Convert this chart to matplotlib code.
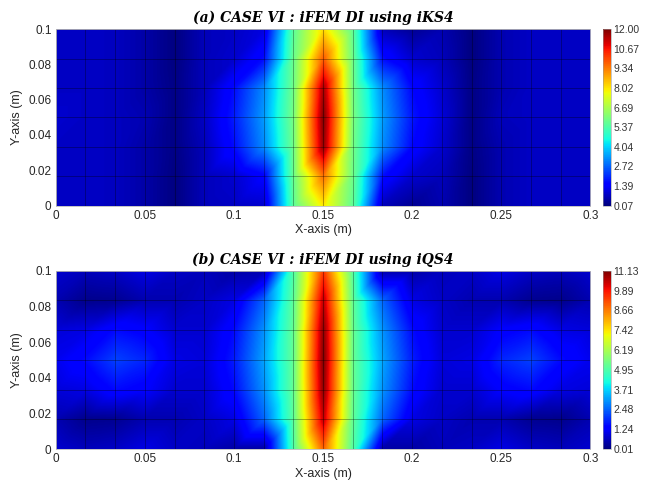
import numpy as np
import matplotlib.pyplot as plt
import matplotlib.tri as mtri

# mesh nodes (18 x 6 elements)
x_nodes = np.linspace(0, 0.3, 19)
y_nodes = np.linspace(0, 0.1, 7)

# nodal damage index, one list per x column (y = 0 ... 0.1)
di_iks4 = [
    [0.8, 0.8, 0.8, 0.9, 0.8, 0.8, 0.8],
    [0.8, 0.8, 0.8, 0.8, 0.8, 0.8, 0.8],
    [0.75, 0.75, 0.75, 0.75, 0.75, 0.75, 0.75],
    [0.5, 0.5, 0.5, 0.6, 0.5, 0.5, 0.5],
    [0.1, 0.1, 0.15, 0.15, 0.15, 0.1, 0.1],
    [0.7, 0.7, 0.7, 0.8, 0.7, 0.7, 0.7],
    [0.8, 0.9, 1.7, 1.9, 1.7, 0.9, 0.8],
    [0.9, 1.5, 3.2, 3.4, 3.2, 1.7, 1.1],
    [5.6, 5.8, 5.9, 6.0, 5.9, 5.8, 5.6],
    [8.0, 9.5, 11.8, 12.0, 11.6, 9.8, 8.2],
    [5.6, 5.8, 5.9, 6.0, 5.9, 5.8, 5.6],
    [0.7, 1.7, 3.2, 3.4, 3.2, 1.7, 0.7],
    [0.3, 0.9, 1.6, 1.8, 1.6, 0.9, 0.3],
    [0.6, 0.7, 0.9, 1.0, 0.9, 0.7, 0.6],
    [0.1, 0.1, 0.15, 0.15, 0.15, 0.1, 0.1],
    [0.6, 0.6, 0.6, 0.7, 0.6, 0.6, 0.6],
    [0.8, 0.8, 0.8, 0.8, 0.8, 0.8, 0.8],
    [0.8, 0.8, 0.8, 0.8, 0.8, 0.8, 0.8],
    [0.8, 0.8, 0.8, 0.8, 0.8, 0.8, 0.8],
]

di_iqs4 = [
    [0.8, 0.5, 0.9, 1.1, 0.9, 0.5, 0.8],
    [0.6, 0.15, 1.0, 1.5, 1.0, 0.15, 0.6],
    [0.7, 0.2, 1.5, 2.1, 1.5, 0.2, 0.7],
    [1.0, 0.5, 1.3, 1.8, 1.3, 0.5, 1.0],
    [0.7, 0.5, 0.8, 1.0, 0.8, 0.5, 0.7],
    [0.6, 0.7, 0.8, 0.9, 0.8, 0.7, 0.6],
    [0.4, 1.0, 1.5, 1.7, 1.5, 1.0, 0.4],
    [0.4, 2.5, 3.0, 3.2, 3.0, 2.5, 0.5],
    [5.0, 5.2, 5.3, 5.3, 5.3, 5.2, 5.0],
    [9.0, 10.5, 11.0, 11.13, 11.0, 10.5, 9.5],
    [5.0, 5.2, 5.3, 5.3, 5.3, 5.2, 5.0],
    [0.4, 2.5, 3.0, 3.2, 3.0, 2.5, 0.4],
    [0.4, 1.0, 1.5, 1.7, 1.5, 1.0, 0.4],
    [0.6, 0.7, 0.8, 0.9, 0.8, 0.7, 0.6],
    [0.7, 0.5, 0.8, 1.0, 0.8, 0.5, 0.7],
    [1.0, 0.5, 1.3, 1.8, 1.3, 0.5, 1.0],
    [0.7, 0.2, 1.5, 2.1, 1.5, 0.2, 0.7],
    [0.6, 0.15, 1.0, 1.5, 1.0, 0.15, 0.6],
    [0.8, 0.5, 0.9, 1.1, 0.9, 0.5, 0.8],
]

titles = ["(a) CASE VI : iFEM DI using iKS4", "(b) CASE VI : iFEM DI using iQS4"]
cbar_limits = [(0.07, 12.00), (0.01, 11.13)]
cbar_labels = [
    ['0.07', '1.39', '2.72', '4.04', '5.37', '6.69', '8.02', '9.34', '10.67', '12.00'],
    ['0.01', '1.24', '2.48', '3.71', '4.95', '6.19', '7.42', '8.66', '9.89', '11.13'],
]

plt.rcParams['font.family'] = ['Liberation Sans', 'DejaVu Sans']

fig = plt.figure(figsize=(6.56, 4.87), dpi=100)
ax_pos = [[0.085, 0.578, 0.815, 0.362], [0.085, 0.078, 0.815, 0.366]]
cb_pos = [[0.919, 0.578, 0.012, 0.362], [0.919, 0.078, 0.012, 0.366]]

# regular mesh split into triangles along the "/" diagonal
X, Y = np.meshgrid(x_nodes, y_nodes)
nx, ny = len(x_nodes), len(y_nodes)
tris = []
for j in range(ny - 1):
    for i in range(nx - 1):
        n0 = j * nx + i
        n1, n2, n3 = n0 + 1, n0 + nx + 1, n0 + nx
        tris.append([n0, n1, n2])
        tris.append([n0, n2, n3])
tri = mtri.Triangulation(X.ravel(), Y.ravel(), np.array(tris))

# fine sampling grid: interpolate the values (not the colours) like MATLAB 'interp'
xf = np.linspace(0, 0.3, 721)
yf = np.linspace(0, 0.1, 241)
XF, YF = np.meshgrid(xf, yf)

for k, data in enumerate([di_iks4, di_iqs4]):
    Z = np.array(data).T  # rows = y, cols = x
    vmin, vmax = cbar_limits[k]
    interp = mtri.LinearTriInterpolator(tri, Z.ravel())
    ZF = interp(XF, YF)

    ax = fig.add_axes(ax_pos[k])
    im = ax.imshow(ZF, origin='lower', extent=[0, 0.3, 0, 0.1], aspect='auto',
                   cmap='jet', vmin=vmin, vmax=vmax, interpolation='bilinear')
    # element edges
    for xv in x_nodes:
        ax.axvline(xv, color='black', lw=0.5, alpha=0.45)
    for yv in y_nodes:
        ax.axhline(yv, color='black', lw=0.5, alpha=0.45)
    ax.set_xlim(0, 0.3)
    ax.set_ylim(0, 0.1)
    ax.set_xticks([0, 0.05, 0.1, 0.15, 0.2, 0.25, 0.3])
    ax.set_xticklabels(['0', '0.05', '0.1', '0.15', '0.2', '0.25', '0.3'])
    ax.set_yticks([0, 0.02, 0.04, 0.06, 0.08, 0.1])
    ax.set_yticklabels(['0', '0.02', '0.04', '0.06', '0.08', '0.1'])
    ax.tick_params(length=0, labelsize=8.5, colors='#262626', pad=3)
    for s in ax.spines.values():
        s.set_color('#bbbbbb')
        s.set_linewidth(0.6)
    ax.set_xlabel("X-axis (m)", fontsize=9, color='#262626', labelpad=2)
    ax.set_ylabel("Y-axis (m)", fontsize=9, color='#262626', labelpad=4)
    ax.set_title(titles[k], fontsize=10, family='DejaVu Serif', style='italic',
                 weight='bold', pad=5)

    cax = fig.add_axes(cb_pos[k])
    cb = fig.colorbar(im, cax=cax)
    cb.set_ticks(np.linspace(vmin, vmax, 10))
    cb.set_ticklabels(cbar_labels[k])
    cb.ax.tick_params(length=0, labelsize=7.5, colors='#333333', pad=2)
    cb.outline.set_linewidth(0.4)
    cb.outline.set_edgecolor('#999999')

plt.savefig("out.png", dpi=100)
